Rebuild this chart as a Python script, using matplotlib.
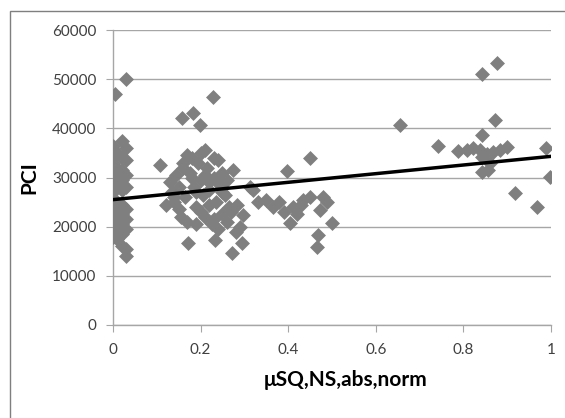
import numpy as np
import matplotlib.pyplot as plt
from matplotlib.patches import Rectangle

plt.rcParams['font.family'] = ['Lato', 'DejaVu Sans']

# scatter values (x = muSQ,NS,abs,norm ; y = PCI)
x_left = [0.03, 0.005,
          0.0, 0.0, 0.0, 0.0, 0.0, 0.0, 0.0, 0.0, 0.0,
          0.01, 0.01, 0.01, 0.01, 0.01, 0.01, 0.01, 0.01, 0.01,
          0.02, 0.02, 0.02, 0.02, 0.02, 0.02, 0.02, 0.02, 0.02, 0.02,
          0.03, 0.03, 0.03, 0.03, 0.03, 0.03, 0.03, 0.03, 0.03]
y_left = [50000, 47000,
          36500, 33000, 31000, 29000, 27000, 24000, 22000, 20000, 18000,
          35000, 32000, 30000, 28500, 25000, 23000, 21000, 19000, 17500,
          37500, 34000, 31500, 29500, 27500, 24500, 22500, 20500, 18500, 16000,
          36000, 33500, 30500, 28000, 23500, 21500, 19500, 15500, 14000]

x_mid = [0.228, 0.157, 0.183, 0.199, 0.107, 0.171, 0.274, 0.313, 0.331, 0.272,
         0.295, 0.233, 0.297, 0.283, 0.29,
         0.13, 0.14, 0.15, 0.16, 0.12, 0.135, 0.145, 0.155, 0.165, 0.175,
         0.18, 0.185, 0.19, 0.195, 0.2, 0.205, 0.21, 0.215, 0.22, 0.225,
         0.23, 0.235, 0.24, 0.245, 0.25, 0.255, 0.26, 0.265, 0.17, 0.18,
         0.19, 0.2, 0.21, 0.22, 0.23, 0.24, 0.25, 0.16, 0.15, 0.14,
         0.26, 0.27, 0.28, 0.22, 0.2, 0.19, 0.17, 0.23, 0.25, 0.21]
y_mid = [46400, 42100, 43100, 40700, 32500, 16700, 31500, 28100, 25000, 14600,
         16700, 17300, 22400, 24400, 20000,
         29000, 25000, 23500, 32000, 24500, 27000, 30500, 22000, 26000, 31000,
         34000, 28000, 24000, 33000, 29500, 26500, 22000, 32000, 27500, 20500,
         30000, 25000, 33500, 28500, 22500, 26500, 29500, 24000, 21000, 30000,
         27000, 35000, 30500, 24500, 21500, 19500, 27000, 33000, 28000, 26000,
         21000, 23000, 19000, 29000, 23000, 20500, 34500, 34000, 31000, 35500]

x_right_mid = [0.45, 0.397, 0.32, 0.38, 0.365, 0.41, 0.434, 0.45, 0.48, 0.489,
               0.472, 0.404, 0.5, 0.468, 0.465, 0.39, 0.42, 0.43, 0.35]
y_right_mid = [34000, 31300, 27500, 25000, 24000, 24000, 25400, 26000, 26000, 25000,
               23400, 20700, 20700, 18300, 15900, 23000, 22500, 24500, 25500]

x_right = [0.877, 0.842, 0.655, 0.872, 0.742, 0.842, 0.788, 0.808, 0.822, 0.838,
           0.853, 0.868, 0.884, 0.9, 0.842, 0.86, 0.842, 0.857, 0.99, 0.998,
           0.918, 0.968]
y_right = [53300, 51000, 40700, 41700, 36400, 38600, 35400, 35600, 36000, 35500,
           34800, 35200, 35600, 36200, 34200, 33000, 31100, 31600, 36000, 30100,
           26800, 24000]

pci_x = np.array(x_left + x_mid + x_right_mid + x_right)
pci_y = np.array(y_left + y_mid + y_right_mid + y_right)

# linear trend line (intercept / slope)
trend_x = [0.0, 1.0]
trend_y = [25500, 34300]

xticks = [0, 0.2, 0.4, 0.6, 0.8, 1]
xtick_labels = ["0", "0.2", "0.4", "0.6", "0.8", "1"]
yticks = [0, 10000, 20000, 30000, 40000, 50000, 60000]

fig = plt.figure(figsize=(5.65, 4.18), dpi=100)
ax = fig.add_axes([0.2, 0.2225, 0.775, 0.7057])

ax.scatter(pci_x, pci_y, marker='D', s=58, color='#7f7f7f', linewidths=0, zorder=3)
ax.plot(trend_x, trend_y, color='black', linewidth=2.5, zorder=4)

ax.set_xlim(0, 1)
ax.set_ylim(0, 60000)
ax.set_xticks(xticks)
ax.set_xticklabels(xtick_labels)
ax.set_yticks(yticks)
ax.yaxis.grid(True, color='#a6a6a6', linewidth=1)
ax.set_axisbelow(True)

for side in ['top', 'right']:
    ax.spines[side].set_visible(False)
for side in ['left', 'bottom']:
    ax.spines[side].set_color('#a6a6a6')
    ax.spines[side].set_linewidth(1)

ax.tick_params(axis='both', direction='out', length=5, color='#a6a6a6',
               labelsize=11, labelcolor='#404040')
ax.tick_params(axis='y', pad=7)
ax.tick_params(axis='x', pad=8)

ax.set_xlabel('\u03bcSQ,NS,abs,norm', fontsize=15, fontweight='bold', labelpad=9)
ax.xaxis.label.set_x(0.532)  # Excel puts the title slightly right of centre
ax.set_ylabel('PCI', fontsize=15, fontweight='bold', labelpad=9)

# outer chart border (only left and top edges are visible in the crop)
fig.patches.append(Rectangle((10 / 565, -0.1), 1.2, 1.1 - 11 / 418,
                             transform=fig.transFigure, fill=False,
                             edgecolor='#7f7f7f', linewidth=1))

fig.savefig('out.png', dpi=100)
